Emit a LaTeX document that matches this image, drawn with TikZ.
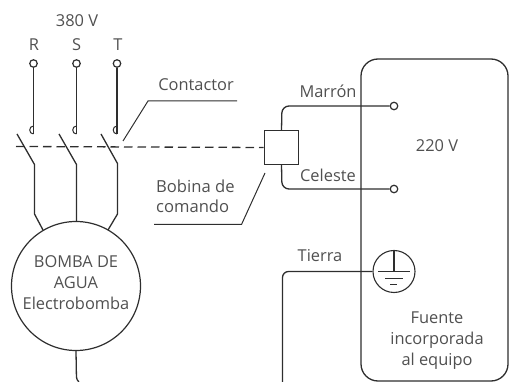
\documentclass[tikz,border=0pt]{standalone}
\usepackage{fontspec}
\setmainfont{Open Sans}
\definecolor{ink}{HTML}{2E2E2E}
\definecolor{txt}{HTML}{505050}
\tikzset{
  x=1pt,y=-1pt,
  wire/.style={draw=ink,line width=1.3pt},
  thin wire/.style={draw=ink,line width=1pt},
  lbl/.style={text=txt,font=\fontsize{16.4}{21}\selectfont,inner sep=0pt,align=center},
  lbll/.style={lbl,align=left,font=\fontsize{16.6}{20}\selectfont},
  terminal/.style={circle,draw=ink,line width=1.2pt,minimum size=7.5pt,inner sep=0pt,fill=white},
}
\begin{document}
\begin{tikzpicture}
\useasboundingbox (0,0) rectangle (509,382);
\clip (0,0) rectangle (509,382);
% panel
\draw[wire,rounded corners=17pt] (361,200) -- (361,59) -- (508,59) -- (508,381) -- (361,381) -- cycle;
% motor
\node[circle,draw=ink,line width=1.2pt,minimum size=129pt,inner sep=0pt] (motor) at (76,286) {};
\node[lbl] (mtext) at (76,282.5) {BOMBA DE\\AGUA\\Electrobomba};
% terminals
\node[terminal] (r) at (33.5,63.5) {};
\node[terminal] (s) at (76.5,63.5) {};
\node[terminal] (t) at (117,63.5) {};
\node[lbl] at (77,21) {380 V};
\node[lbl] at (34,45) {R};
\node[lbl] at (76.5,45) {S};
\node[lbl] at (118,45) {T};
% fixed contacts
\foreach \n/\x in {r/33.5,s/76.5,t/117}{
  \coordinate (\n c) at (\x,134);
  \draw[wire] (\n) -- (\n c);
  \draw[thin wire] (\x,126) .. controls (\x-5,126) and (\x-5,134) .. (\x,134);
}
% blades
\coordinate (rb) at (43,230);
\coordinate (tb) at (108,230);
\coordinate (sb) at (76.5,222);
\coordinate (m) at (76.5,351);
\draw[wire] (17,134) -- (34.5,164.5) -- (34.5,214) -- (rb);
\draw[wire] (59,134) -- (76.5,164.5) -- (sb);
\draw[wire] (101,134) -- (117.5,163.5) -- (117.5,214) -- (tb);
% coil
\node[draw=ink,line width=1.4pt,minimum width=34.5pt,minimum height=33.5pt,inner sep=0pt] (coil) at (281.5,147.5) {};
% dashed link
\coordinate (dl) at (16,146.5);
\draw[wire,dash pattern=on 8.5pt off 5pt] (dl) -- (coil.west);
% supply terminals
\node[terminal] (a) at (394,106) {};
\node[terminal] (b) at (394,189) {};
\draw[wire,rounded corners=7pt] (coil.north) -- (282,106) -- (a);
\draw[wire,rounded corners=7pt] (coil.south) -- (282,189) -- (b);
% ground
\node[circle,draw=ink,line width=1.1pt,minimum size=42pt,inner sep=0pt] (g) at (394,271.5) {};
\coordinate (gw) at (282.5,382);
\draw[wire,rounded corners=6pt] (gw) -- (282.5,271.5) -- (g.west);
\draw[wire] (g.north) -- (g.center);
\draw[wire] (378,271.5) -- (410,271.5);
\draw[wire] (385,278.5) -- (403,278.5);
\draw[wire] (390,284.5) -- (397,284.5);
% motor tail
\coordinate (tail) at (79,382);
\draw[wire,rounded corners=3pt] (motor.south) -- (76.5,380) -- (tail);
% leaders
\draw[thin wire] (123,141) -- (148,101) -- (237,101);
\draw[thin wire] (154,224.5) -- (241.5,224.5) -- (265,173);
% labels
\node[lbl] at (196,85) {Contactor};
\node[lbll,anchor=north west] at (156,180) {Bobina de\\comando};
\node[lbl] at (328,91) {Marrón};
\node[lbl] at (328,175) {Celeste};
\node[lbl] at (437,146) {220 V};
\node[lbl] at (320,256) {Tierra};
\node[lbl] at (437,340.5) {Fuente\\incorporada\\al equipo};
\end{tikzpicture}
\end{document}
